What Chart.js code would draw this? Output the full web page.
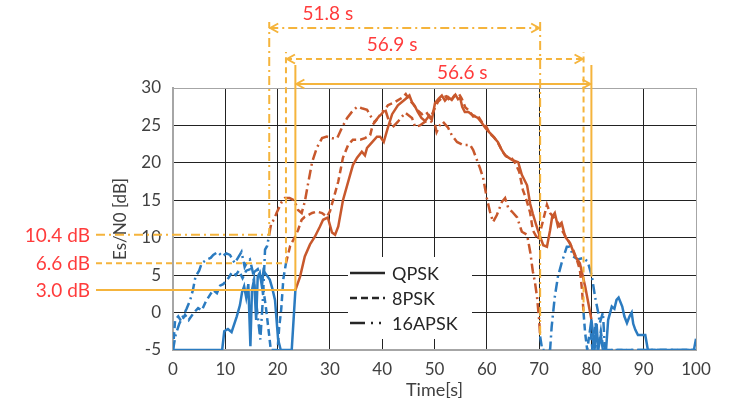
<!DOCTYPE html>
<html>
<head>
<meta charset="utf-8">
<script src="https://cdn.jsdelivr.net/npm/chart.js@4.4.1/dist/chart.umd.min.js"></script>
<style>
html,body{margin:0;background:#fff}
</style>
</head>
<body>
<canvas id="chart" width="734" height="405"></canvas>
<script>
// series (time [s], Es/N0 [dB])
const tQPSK = [0,9.4,9.8,10.5,11.2,12.2,12.8,13.2,13.6,14.0,14.4,14.8,15.1,15.5,15.9,16.2,16.6,17.0,17.3,17.9,18.5,19.0,19.5,20.1,20.6,22.7,
  23.4,24.3,25.2,26.2,27.1,28.1,28.7,29.6,30.4,31.0,31.6,32.5,33.5,34.4,35.2,36.1,36.7,37.1,38.0,39.0,39.6,40.3,41.0,41.9,43.0,44.4,45.2,45.7,46.3,46.8,47.5,48.2,49.0,49.5,
  50.1,50.8,51.4,52.0,52.6,53.3,54.0,54.5,54.9,55.3,55.8,56.5,57.2,58.3,59.0,59.7,60.3,61.0,62.1,62.8,63.5,64.8,66.0,66.7,67.7,68.3,68.8,69.4,70.0,70.8,71.5,72.1,72.5,73.0,73.6,74.3,75.0,75.9,76.9,77.8,78.8,79.4,80.0,
  80.3,80.6,81.0,81.3,81.8,82.2,82.8,83.2,83.9,84.4,84.8,85.2,85.9,86.3,86.8,87.3,87.7,88.0,88.4,88.9,90.3,90.8,99.6,100];
const vQPSK = [-5,-5,-2.5,-2.2,-2.6,-0.5,1.0,2.7,3.5,2.0,3.8,-4.5,3.0,4.4,-1.0,4.8,5.3,3.5,5.6,5.0,4.4,3.2,1.7,-3.6,-5,-5,
  3.0,4.8,7.5,9.1,10.1,11.5,12.4,12.7,10.7,10.4,11.5,15.0,17.5,19.7,20.7,21.5,21.0,22.0,22.7,23.5,23.5,22.8,24.5,26.5,27.7,28.5,29.0,28.1,27.5,26.8,26.0,25.6,26.3,25.8,
  28.0,28.6,29.0,28.3,28.8,28.4,29.1,28.5,28.7,27.5,26.8,26.8,26.4,26.0,25.4,24.7,24.2,23.7,22.8,21.8,21.0,20.4,20.1,18.4,17.0,14.5,13.2,11.8,10.5,9.0,8.8,11.0,12.8,13.3,11.5,12.0,10.1,9.3,7.5,6.6,3.5,1.3,-0.9,
  -2.7,-5,-1.5,-5,-3.0,-5,-5,-1.0,0.8,0.5,1.7,2.0,0.8,-0.5,-1.4,-0.5,0.0,-1.5,-2.3,-3.0,-3.0,-5,-5,-3.5];

const t8PSK = [0,0.4,1.0,1.6,2.3,3.0,4.0,4.8,5.5,6.3,7.1,7.7,8.4,9.0,9.6,10.4,11.3,12.0,12.6,13.3,14.0,14.8,15.5,16.2,16.8,17.3,17.8,18.3,18.7,20.0,20.3,20.7,21.1,
  21.6,22.4,23.3,23.9,24.6,25.2,26.6,27.5,28.5,29.4,30.0,31.0,31.6,32.5,33.5,34.4,35.8,36.7,37.7,38.2,39.2,40.2,41.1,42.4,43.8,44.5,45.2,46.0,46.8,47.6,48.4,49.2,
  50.0,50.7,51.5,52.3,53.0,53.8,54.6,55.2,55.9,56.6,57.4,58.2,59.0,59.8,60.6,61.4,62.2,63.0,63.8,64.6,65.4,66.2,66.9,67.6,68.3,68.8,69.8,70.8,71.5,72.1,72.7,73.6,74.6,75.5,76.5,77.2,77.8,78.2,78.5,
  78.8,79.2,79.8,80.2,80.8,81.2,81.8,82.3,100];
const v8PSK = [-5,-1.0,-0.5,-1.2,-0.3,-1.0,0.0,0.6,0.3,1.5,2.4,3.0,2.6,3.6,3.8,4.4,5.4,5.0,5.6,4.6,5.6,5.8,5.4,5.8,4.6,3.0,0.5,-2.5,-5,-5,-2.0,0.5,4.5,
  6.6,8.9,10.1,11.0,12.4,12.8,13.3,13.5,13.3,12.8,13.5,16.0,17.5,20.7,22.4,23.1,23.1,23.3,23.7,25.1,26.0,26.8,27.7,28.1,28.7,29.2,28.4,27.8,27.0,26.5,26.8,26.0,
  27.2,28.2,28.7,28.9,28.2,29.0,29.3,28.6,27.4,27.0,26.2,26.4,25.5,25.0,23.9,23.4,22.6,21.5,20.8,20.8,20.0,18.8,16.4,15.0,13.3,11.0,9.7,12.4,14.4,13.3,12.8,12.0,10.7,9.7,8.4,7.1,5.7,3.1,0.0,
  -2.7,-5,-2.0,-5,-1.4,-5,-2.5,-5,-5];

const t16APSK = [0,0.5,1.2,1.9,2.6,3.3,3.8,4.3,5.0,5.5,6.5,7.2,7.7,8.6,9.4,10.2,10.9,11.8,12.5,13.1,13.7,14.2,14.7,15.3,16.0,16.7,17.2,17.6,18.0,
  18.4,18.8,19.3,19.8,20.8,21.4,22.3,23.2,23.9,24.6,25.2,25.9,26.6,27.5,28.5,29.4,30.4,31.4,32.3,33.3,34.2,35.2,36.1,37.1,38.0,38.6,39.6,40.5,41.1,41.9,43.0,44.4,45.7,46.3,47.2,48.2,49.2,
  50.1,50.4,51.0,51.6,52.6,53.3,54.3,55.4,56.8,57.4,58.1,58.7,59.3,60.0,60.6,61.2,61.9,62.9,63.5,64.1,64.8,65.8,66.7,67.7,68.3,68.8,69.2,69.6,70.0,70.2,
  70.6,72.1,72.4,73.0,73.6,74.3,75.3,75.9,76.5,77.4,78.4,79.3,80.1,80.7,81.3,81.6,82.2,82.6,100];
const v16APSK = [-5,-3.0,-1.5,-0.5,0.5,1.7,3.0,4.8,5.6,6.6,7.1,7.3,7.7,8.1,7.5,7.9,7.7,6.6,7.4,8.1,6.1,6.8,7.1,5.3,0.8,-3.6,2.0,8.4,8.9,
  10.4,12.0,12.4,13.3,14.8,15.3,15.3,15.0,13.7,13.3,14.8,17.5,20.1,22.0,23.3,23.5,23.3,23.3,24.7,26.0,26.8,27.5,27.3,27.1,26.0,25.5,26.4,27.3,26.0,24.7,25.5,26.7,26.0,24.8,25.0,25.5,25.6,
  25.1,24.1,25.0,25.5,24.7,23.7,22.8,22.4,22.4,21.7,20.4,19.3,18.0,15.3,13.5,12.1,13.0,14.8,15.3,14.0,13.5,12.7,10.8,10.4,8.1,5.5,4.1,2.1,-0.9,-3.2,
  -5,-5,-1.9,2.1,4.8,6.6,8.8,8.8,7.5,7.1,7.3,6.8,4.8,2.1,0.0,-1.4,0.0,-5,-5];

const seriesNames = ['QPSK', '8PSK', '16APSK'];
const seriesTimes = [tQPSK, t8PSK, t16APSK];
const seriesVals = [vQPSK, v8PSK, v16APSK];
// threshold and the window where each mode is usable
const thresholdDb = [3.0, 6.6, 10.4];
const windowStart = [23.4, 21.6, 18.4];
const windowEnd = [80.0, 78.5, 70.2];
const rightLineEnd = [4.8, 0.0, -3.0];

const xTickVals = [0,10,20,30,40,50,60,70,80,90,100];
const yTickVals = [-5,0,5,10,15,20,25,30];

const BLUE = '#2B7BC0', ORANGE = '#C8582C', GOLD = '#F5B43C', RED = '#FF3B3B', TXT = '#404040';
const FONT = 'Lato';
const dashes = [[], [7,4], [10,4,2,4]];

// where the arrows / labels go (layout only)
const arrowY = [84, 59, 28];
const topY = [65, 52, 22];
const spanLabelT = [55.3, 41.9, 29.6];
const spanLabelY = [73, 45, 14];

const datasets = seriesNames.map((name, i) => ({
  label: name,
  data: seriesTimes[i].map((t, j) => ({x: t, y: seriesVals[i][j]})),
  borderColor: BLUE,
  borderWidth: 2.5,
  borderDash: dashes[i],
  pointRadius: 0,
  tension: 0,
  segment: {
    borderColor: c => (c.p0.parsed.x >= windowStart[i] - 1e-6 && c.p1.parsed.x <= windowEnd[i] + 1e-6) ? ORANGE : BLUE
  }
}));

const legendBox = {
  id: 'legendBox',
  beforeDatasetsDraw(chart) {
    const ctx = chart.ctx;
    const legDash = [[], [7,4], [15,6,2,6,2,6]];
    ctx.save();
    ctx.fillStyle = '#fff';
    ctx.fillRect(348, 257, 124, 82);
    seriesNames.forEach((n, i) => {
      const y = 273 + i * 25;
      ctx.strokeStyle = '#262626';
      ctx.lineWidth = 2.5;
      ctx.setLineDash(legDash[i]);
      ctx.beginPath(); ctx.moveTo(350, y); ctx.lineTo(385, y); ctx.stroke();
      ctx.setLineDash([]);
      ctx.fillStyle = '#262626';
      ctx.font = '18px ' + FONT;
      ctx.textBaseline = 'middle';
      ctx.textAlign = 'left';
      ctx.fillText(n, 392, y + 1);
    });
    ctx.restore();
  }
};

function chevron(ctx, x, y, dir) {
  ctx.beginPath();
  ctx.moveTo(x + dir * 8, y - 4.5);
  ctx.lineTo(x, y);
  ctx.lineTo(x + dir * 8, y + 4.5);
  ctx.stroke();
}

const windowMarks = {
  id: 'windowMarks',
  afterDatasetsDraw(chart) {
    const ctx = chart.ctx, xs = chart.scales.x, ys = chart.scales.y;
    ctx.save();
    ctx.strokeStyle = GOLD;
    ctx.lineWidth = 2;
    for (let i = 0; i < 3; i++) {
      const x0 = xs.getPixelForValue(windowStart[i]);
      const x1 = xs.getPixelForValue(windowEnd[i]);
      const yTh = ys.getPixelForValue(thresholdDb[i]);
      const yEnd = ys.getPixelForValue(rightLineEnd[i]);
      ctx.setLineDash(i == 0 ? [] : (i == 1 ? [6,4] : [9,4,2,4]));
      ctx.beginPath();
      ctx.moveTo(96, yTh); ctx.lineTo(x0, yTh); ctx.lineTo(x0, topY[i]);
      ctx.moveTo(x1, yEnd); ctx.lineTo(x1, topY[i]);
      ctx.moveTo(x0, arrowY[i]); ctx.lineTo(x1, arrowY[i]);
      ctx.stroke();
      ctx.setLineDash([]);
      chevron(ctx, x0 + 1, arrowY[i], 1);
      chevron(ctx, x1 - 1, arrowY[i], -1);

      ctx.fillStyle = RED;
      ctx.font = '19px ' + FONT;
      ctx.textBaseline = 'middle';
      ctx.textAlign = 'right';
      ctx.fillText(thresholdDb[i].toFixed(1) + ' dB', 90, yTh + 1);
      ctx.textAlign = 'center';
      ctx.fillText((windowEnd[i] - windowStart[i]).toFixed(1) + ' s', xs.getPixelForValue(spanLabelT[i]), spanLabelY[i]);
    }
    ctx.restore();
  }
};

new Chart(document.getElementById('chart'), {
  type: 'line',
  data: {datasets},
  options: {
    responsive: false,
    animation: false,
    layout: {padding: {left: 100, right: 38, top: 88, bottom: 0}},
    plugins: {legend: {display: false}, tooltip: {enabled: false}},
    scales: {
      x: {
        type: 'linear', min: 0, max: 100,
        afterBuildTicks: s => { s.ticks = xTickVals.map(v => ({value: v})); },
        afterFit: s => { s.height = 55; },
        ticks: {font: {family: FONT, size: 17}, color: TXT, padding: 9, maxRotation: 0},
        grid: {color: c => c.tick && c.tick.value === 100 ? '#a6a6a6' : '#222', lineWidth: 1, drawTicks: false},
        border: {color: '#a6a6a6', width: 2},
        title: {display: true, text: 'Time[s]', font: {family: FONT, size: 18}, color: TXT, padding: {top: 0, bottom: 4}}
      },
      y: {
        min: -5, max: 30,
        afterBuildTicks: s => { s.ticks = yTickVals.map(v => ({value: v})); },
        afterFit: s => { s.width = 73; },
        ticks: {font: {family: FONT, size: 17}, color: TXT, padding: 12},
        grid: {color: c => c.tick && c.tick.value === 30 ? '#a6a6a6' : '#222', lineWidth: 1, drawTicks: false},
        border: {color: '#a6a6a6', width: 2},
        title: {display: true, text: 'Es/N0 [dB]', font: {family: FONT, size: 17}, color: TXT, padding: {top: 10, bottom: 0}}
      }
    }
  },
  plugins: [legendBox, windowMarks]
});
</script>
</body>
</html>
